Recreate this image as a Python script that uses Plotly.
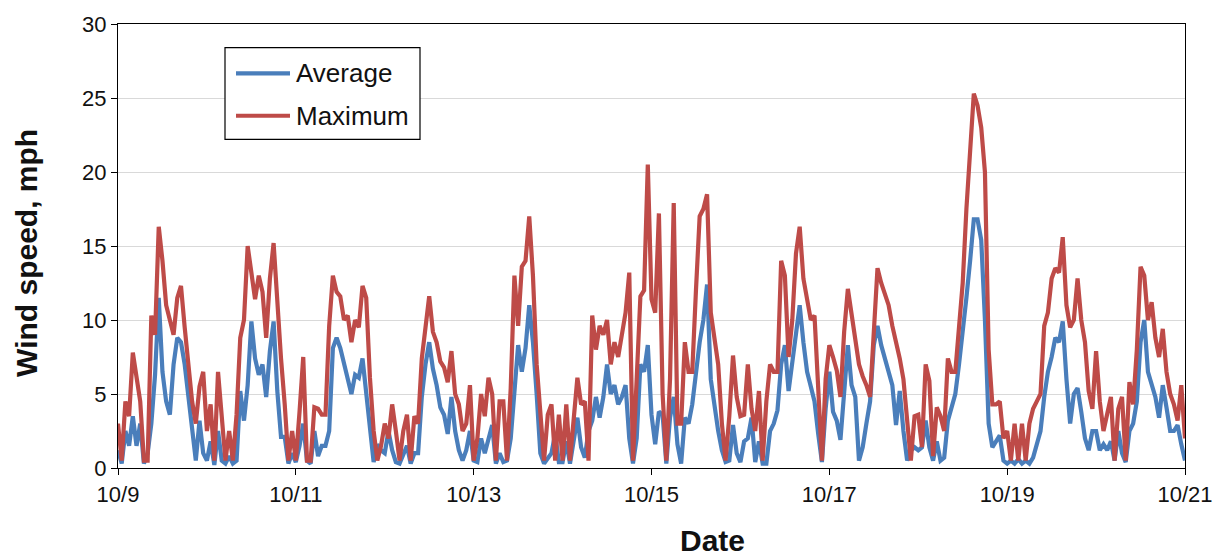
import plotly.graph_objects as go

# Hourly wind speed (mph), one list of 24 readings per day, starting 10/9 00:00
avg_oct09 = [1.2, 0.3, 2.5, 1.5, 3.5, 1.5, 3.0, 0.3, 1, 3, 6.3, 11.5, 6.5, 4.5, 3.6, 7, 8.8, 8.5, 7, 4.8, 2.5, 0.5, 3.2, 1]
avg_oct10 = [0.5, 1.8, 0.2, 2.5, 0.5, 0.3, 0.8, 0.3, 0.5, 5.2, 3.2, 5.6, 9.9, 7.4, 6.3, 7, 4.8, 7.9, 9.9, 5.2, 2.1, 2.1, 0.3, 1]
avg_oct11 = [0.4, 1.5, 3, 0.5, 0.3, 2.5, 0.8, 1.5, 1.5, 2.5, 8.1, 8.8, 8.1, 7, 6.1, 5, 6.3, 6.1, 7.4, 5, 2.3, 0.4, 1.6, 1.2]
avg_oct12 = [1, 2.5, 1.2, 0.4, 0.3, 1, 1.5, 0.3, 1, 1, 4.8, 7, 8.5, 6.7, 5.6, 4.1, 3.6, 2.3, 4.8, 2.5, 1.2, 0.5, 1.2, 2.5]
avg_oct13 = [0.5, 0.4, 2, 1, 2, 2.9, 0.3, 1, 0.4, 0.5, 2, 5.6, 8.3, 6.5, 8.1, 11, 8.5, 5, 1, 0.3, 0.7, 1, 2.3, 0.4]
avg_oct14 = [0.4, 1.8, 0.3, 1.8, 3.4, 1.4, 0.7, 2.5, 3.2, 4.8, 3.4, 4.8, 7, 5, 5.6, 4.3, 4.8, 5.6, 2, 0.3, 2, 7, 6.5, 8.3]
avg_oct15 = [3.6, 1.6, 3.8, 3.6, 0.3, 3.4, 4.8, 1.6, 0.3, 3.4, 3, 4.3, 6.5, 8.5, 10, 12.4, 6, 4.1, 2.5, 1.2, 0.4, 0.5, 2.9, 1]
avg_oct16 = [0.4, 1.8, 2, 3.4, 0.4, 1.8, 0.3, 0.3, 2.5, 3, 3.9, 7, 8.3, 5.2, 7, 9.2, 11, 8.5, 6.5, 5.5, 4.5, 2.3, 0.4, 4]
avg_oct17 = [6.5, 3.8, 3.2, 1.9, 5.6, 8.3, 5.6, 4.8, 0.5, 1.4, 3, 4.5, 8.3, 9.6, 8.3, 7.4, 6.5, 5.6, 2.9, 5.2, 2.5, 0.5, 1.2, 1.4]
avg_oct18 = [1.2, 1.4, 3.2, 1.4, 0.5, 1.8, 0.5, 0.7, 3.2, 4.1, 5, 7, 9, 11.5, 14, 16.8, 16.8, 15.4, 10, 3, 1.4, 1.8, 2.2, 0.5]
avg_oct19 = [0.3, 0.5, 0.3, 0.6, 0.3, 0.5, 0.3, 0.7, 1.6, 2.5, 4.8, 6.5, 7.5, 8.8, 8.5, 9.9, 6, 3, 5, 5.4, 3.8, 2, 1.2, 2.5]
avg_oct20 = [2.5, 1.2, 1.6, 1.2, 1.8, 0.5, 2.5, 1, 0.4, 2.5, 3, 4.5, 8.5, 10, 6.5, 5.6, 4.8, 3.4, 5.6, 4.1, 2.5, 2.5, 2.9, 1.6]
avg_oct21 = [0.5]

max_oct09 = [3, 0.5, 4.5, 3.5, 7.8, 6, 4.5, 0.5, 0.5, 10.3, 9, 16.3, 14, 11, 10, 9, 11.5, 12.3, 9.5, 7, 4.5, 3, 5.5, 6.5]
max_oct10 = [2.5, 4.3, 0.5, 6.5, 3, 0.5, 2.5, 0.5, 3.6, 8.8, 10, 15, 13.2, 11.4, 13, 11.9, 8.8, 12.8, 15.2, 11, 7.4, 4.3, 0.5, 2.5]
max_oct11 = [0.5, 3.8, 7.5, 0.5, 0.5, 4.1, 4, 3.6, 3.6, 9.6, 13, 11.9, 11.6, 10, 10.3, 8.5, 10, 9.5, 12.3, 11.5, 6.1, 2.5, 0.5, 1.5]
max_oct12 = [3, 2, 4.3, 2.5, 0.5, 2.5, 3.6, 0.5, 3.5, 3, 7.4, 9.5, 11.6, 9.2, 8.5, 7.2, 6.8, 5.8, 7.9, 5, 4.3, 2.5, 3, 5.6]
max_oct13 = [0.5, 2, 5, 3.5, 6.1, 5, 0.5, 4.5, 4.5, 0.5, 5.4, 13, 9.6, 13.6, 14, 17, 13, 7, 4.1, 0.5, 3.6, 4.3, 0.5, 3.6]
max_oct14 = [0.5, 4.3, 0.5, 3, 6.1, 4.3, 4.5, 0.5, 10.3, 8, 9.6, 9, 10, 7, 8.5, 7.5, 9, 10.5, 13.2, 0.5, 6, 11.6, 12, 20.5]
max_oct15 = [11.4, 10.5, 17.2, 5, 0.5, 6, 17.9, 3, 3, 8.5, 6.5, 6.5, 12, 17, 17.5, 18.5, 10.5, 8.8, 7, 3, 0.5, 3.5, 7.6, 4.8]
max_oct16 = [3.5, 3.6, 7, 4, 2.5, 5.2, 0.5, 4.5, 7, 6.5, 6.5, 14, 13, 7.5, 10, 14.5, 16.3, 12.8, 11.2, 10, 10.3, 6, 0.5, 6]
max_oct17 = [8.3, 7.5, 6.6, 4.8, 9.2, 12.1, 10.5, 8.8, 7, 6.2, 5.6, 4.8, 9.5, 13.5, 12.5, 11.8, 11, 9.6, 8.6, 7.4, 6, 3, 0.5, 3.5]
max_oct18 = [3.6, 1.4, 7, 5.9, 0.8, 4.1, 3.5, 2.5, 7.4, 6.5, 6.5, 9.5, 12.5, 17.5, 22, 25.3, 24.5, 23, 20, 8, 4.3, 4.3, 4.5, 2]
max_oct19 = [2.5, 0.5, 3, 0.5, 3, 0.5, 3, 4, 4.5, 5, 9.6, 10.5, 12.8, 13.5, 13.2, 15.6, 11, 9.5, 10, 12.8, 10, 8.5, 5.2, 4]
max_oct20 = [7.9, 4.5, 2.5, 3.6, 4.8, 0.5, 4, 4.8, 0.5, 5.8, 4.3, 8, 13.6, 13, 10, 11.2, 8.8, 7.5, 9.4, 6.5, 5, 4.3, 3.2, 5.6]
max_oct21 = [2]

# Axis labels
date_ticks = ["10/9", "10/11", "10/13", "10/15", "10/17", "10/19", "10/21"]
speed_ticks = [0, 5, 10, 15, 20, 25, 30]

average = (avg_oct09 + avg_oct10 + avg_oct11 + avg_oct12 + avg_oct13 + avg_oct14 + avg_oct15
           + avg_oct16 + avg_oct17 + avg_oct18 + avg_oct19 + avg_oct20 + avg_oct21)
maximum = (max_oct09 + max_oct10 + max_oct11 + max_oct12 + max_oct13 + max_oct14 + max_oct15
           + max_oct16 + max_oct17 + max_oct18 + max_oct19 + max_oct20 + max_oct21)
hours = list(range(len(average)))

BLUE = "#4a7ebb"
RED = "#be4b48"
FONT = "Arial, Liberation Sans, sans-serif"
LW = 4.2

fig = go.Figure()
fig.add_trace(go.Scatter(x=hours, y=average, mode="lines", name="Average",
                         line=dict(color=BLUE, width=LW), showlegend=False))
fig.add_trace(go.Scatter(x=hours, y=maximum, mode="lines", name="Maximum",
                         line=dict(color=RED, width=LW), showlegend=False))

# plot-area geometry in pixels, used to place the legend box in paper units
L, R, T, B = 118, 1185, 18, 468
def px(xp):
    return (xp - L) / (R - L)
def py(yp):
    return (B - yp) / (B - T)

shapes = [
    dict(type="rect", xref="paper", yref="paper", x0=px(225), x1=px(420), y0=py(135), y1=py(42),
         line=dict(color="black", width=1.2), fillcolor="white", layer="above"),
    dict(type="line", xref="paper", yref="paper", x0=px(236), x1=px(290), y0=py(68), y1=py(68),
         line=dict(color=BLUE, width=LW), layer="above"),
    dict(type="line", xref="paper", yref="paper", x0=px(236), x1=px(290), y0=py(111), y1=py(111),
         line=dict(color=RED, width=LW), layer="above"),
]
annotations = [
    dict(text="Average", xref="paper", yref="paper", x=px(294), y=py(68), xanchor="left",
         yanchor="middle", showarrow=False, font=dict(family=FONT, size=26, color="#111")),
    dict(text="Maximum", xref="paper", yref="paper", x=px(294), y=py(111), xanchor="left",
         yanchor="middle", showarrow=False, font=dict(family=FONT, size=26, color="#111")),
    dict(text="<b>Date</b>", xref="paper", yref="paper", x=px(712), y=py(541), xanchor="center",
         yanchor="middle", showarrow=False, font=dict(family=FONT, size=30, color="#111")),
    dict(text="<b>Wind speed, mph</b>", xref="paper", yref="paper", x=px(27), y=py(250),
         xanchor="center", yanchor="middle", textangle=-90, showarrow=False,
         font=dict(family=FONT, size=30, color="#111")),
]

fig.update_layout(
    width=1230, height=559,
    margin=dict(l=L, r=1230 - R, t=T, b=559 - B),
    paper_bgcolor="white", plot_bgcolor="white",
    font=dict(family=FONT, size=22, color="#111"),
    shapes=shapes, annotations=annotations,
)
fig.update_xaxes(
    range=[0, 288], tickvals=[48 * i for i in range(len(date_ticks))], ticktext=date_ticks,
    showgrid=False, zeroline=False, showline=True, linecolor="black", linewidth=1.2,
    mirror=True, ticks="outside", ticklen=6, tickcolor="black",
)
fig.update_yaxes(
    range=[0, 30], tickvals=speed_ticks, showgrid=True, gridcolor="#d9d9d9", gridwidth=1,
    zeroline=False, showline=True, linecolor="black", linewidth=1.2, mirror=True,
    ticks="outside", ticklen=6, tickcolor="black",
)

fig.write_html("out.html")
